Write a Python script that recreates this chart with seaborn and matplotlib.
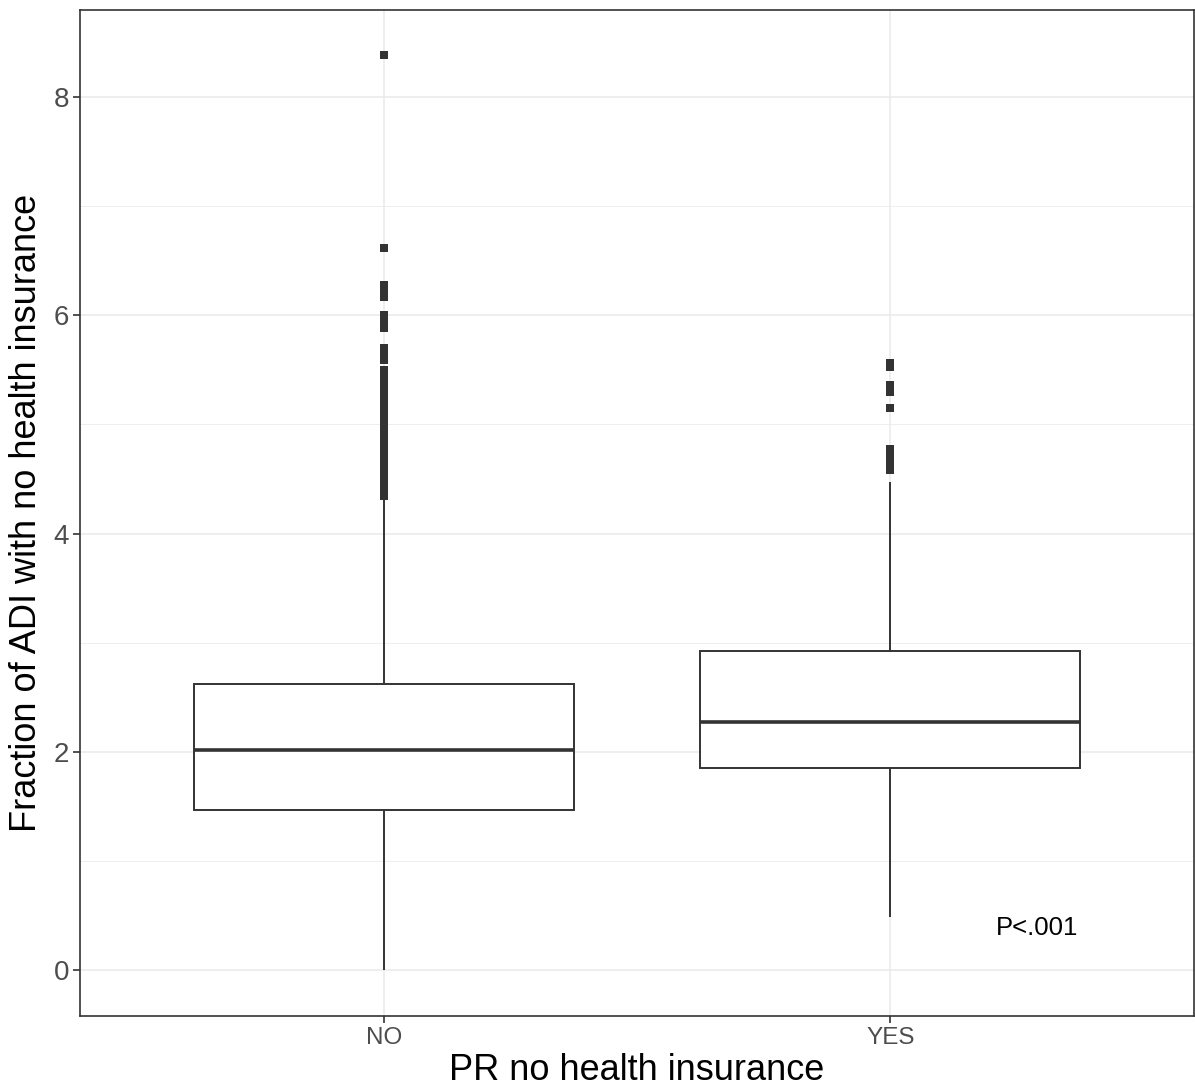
import numpy as np
import pandas as pd
import matplotlib
matplotlib.use("Agg")
import matplotlib.pyplot as plt
from matplotlib.ticker import MultipleLocator
import seaborn as sns

# categories and box statistics
groups = ["NO", "YES"]
whisker_low = [0.0, 0.485]
q1 = [1.465, 1.849]
median = [2.014, 2.27]
q3 = [2.618, 2.92]
whisker_high = [4.32, 4.47]

# outliers above the upper whisker
outliers_no = [8.38, 6.62, 6.28, 6.25, 6.21, 6.17, 6.00, 5.96, 5.92, 5.88,
               5.70, 5.66, 5.62, 5.59, 5.50, 5.47, 5.45, 5.41, 5.38, 5.36,
               5.32, 5.29, 5.27, 5.23, 5.20, 5.18, 5.14, 5.11, 5.09, 5.05,
               5.02, 4.99, 4.96, 4.94, 4.90, 4.87, 4.85, 4.81, 4.78, 4.76,
               4.72, 4.69, 4.67, 4.63, 4.60, 4.58, 4.54, 4.51, 4.49, 4.45,
               4.42, 4.40, 4.37, 4.34]
outliers_yes = [5.56, 5.53, 5.36, 5.33, 5.30, 5.15, 4.77, 4.73, 4.69, 4.65,
                4.61, 4.58]

x_title = "PR no health insurance"
y_title = "Fraction of ADI with no health insurance"
p_text = "P<.001"

# five points per group -> quartiles and whisker ends fall exactly on them
rows = []
for i, g in enumerate(groups):
    for v in (whisker_low[i], q1[i], median[i], q3[i], whisker_high[i]):
        rows.append({"group": g, "value": v})
box_df = pd.DataFrame(rows)

out_df = pd.DataFrame({
    "group": ["NO"] * len(outliers_no) + ["YES"] * len(outliers_yes),
    "value": outliers_no + outliers_yes,
})

sns.set_theme(style="white")
plt.rcParams["font.family"] = ["Liberation Sans", "DejaVu Sans"]

fig = plt.figure(figsize=(11.95, 10.89), dpi=100)
ax = fig.add_axes([80 / 1195, 1 - 1016 / 1089, 1114 / 1195, 1006.5 / 1089])

dark = "#333333"
sns.boxplot(data=box_df, x="group", y="value", order=groups, whis=np.inf,
            width=0.75, color="white", linecolor=dark, linewidth=1.4,
            showfliers=False, medianprops={"linewidth": 2.6, "color": dark},
            capprops={"linewidth": 0}, ax=ax)
sns.stripplot(data=out_df, x="group", y="value", order=groups, jitter=False,
              marker="s", size=5.8, color=dark, linewidth=0, ax=ax)

ax.text(1.29, 0.39, p_text, ha="center", va="center", fontsize=18.5,
        color="black")

ax.set_xlim(-0.6, 1.6)
ax.set_ylim(-0.419, 8.80)
ax.yaxis.set_major_locator(MultipleLocator(2))
ax.yaxis.set_minor_locator(MultipleLocator(1))
ax.set_axisbelow(True)
ax.grid(which="major", color="#EBEBEB", linewidth=1.2)
ax.grid(which="minor", axis="y", color="#EBEBEB", linewidth=0.6)

for s in ax.spines.values():
    s.set_color(dark)
    s.set_linewidth(1.2)

ax.tick_params(axis="both", which="major", length=5, width=1.2, color=dark,
               labelcolor="#4D4D4D", left=True, bottom=True)
ax.tick_params(axis="y", labelsize=20, pad=3)
ax.tick_params(axis="x", labelsize=17.5, pad=3)
ax.tick_params(which="minor", length=0)

ax.set_xlabel(x_title, fontsize=26, color="black", labelpad=3)
ax.set_ylabel(y_title, fontsize=26, color="black", labelpad=7)

fig.savefig("out.png", dpi=100)
